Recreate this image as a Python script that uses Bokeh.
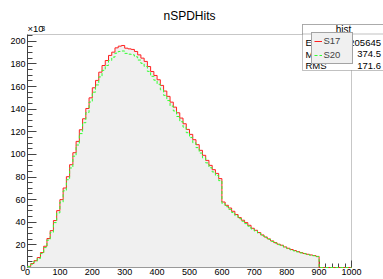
import numpy as np
from bokeh.plotting import figure
from bokeh.models import FixedTicker, Label, BoxAnnotation, Legend, LegendItem
from bokeh.embed import file_html
from bokeh.resources import INLINE

# ---------------- data (counts in units of 10^3, 10-wide bins from 0 to 1000) ----------------
bin_edges = list(range(0, 1001, 10))

s17 = [1.0, 3.5, 6.0, 8.8, 13.2, 18.8, 25.6, 32.6, 41.5, 50.3,
       60.0, 70.3, 80.3, 90.9, 101.5, 111.5, 121.8, 131.5, 140.6, 150.0,
       158.9, 165.4, 172.7, 178.6, 183.0, 187.5, 190.4, 194.2, 195.7, 196.3,
       193.9, 193.3, 192.8, 191.0, 188.0, 185.1, 182.2, 177.7, 173.3, 169.8,
       166.0, 161.0, 156.0, 151.3, 146.2, 141.8, 136.8, 132.1, 127.1, 122.1,
       117.7, 113.0, 108.6, 103.6, 99.2, 94.7, 90.3, 86.5, 83.2, 78.6,
       57.9, 55.0, 52.6, 49.7, 46.8, 44.1, 41.8, 39.7, 37.3, 34.7,
       32.9, 30.9, 28.8, 27.0, 25.3, 23.5, 22.0, 20.6, 19.7, 18.2,
       17.0, 15.9, 15.0, 14.1, 13.2, 12.4, 11.7, 11.1, 10.6, 9.8,
       0, 0, 0, 0, 0, 0, 0, 0, 0, 0]

s20 = [0.8, 3.0, 5.4, 8.0, 12.3, 17.6, 24.2, 31.0, 39.7, 48.3,
       57.8, 67.8, 77.6, 88.0, 98.4, 108.3, 118.4, 128.0, 137.0, 146.3,
       155.0, 161.4, 168.5, 174.3, 178.6, 183.0, 186.0, 189.5, 191.0, 191.4,
       189.3, 188.6, 188.0, 186.3, 183.4, 180.5, 177.7, 173.4, 169.0, 165.6,
       162.0, 157.1, 152.2, 147.6, 142.7, 138.4, 133.5, 128.9, 124.1, 119.2,
       114.9, 110.3, 106.0, 101.2, 96.9, 92.5, 88.2, 84.5, 81.3, 76.8,
       56.6, 53.8, 51.4, 48.6, 45.8, 43.2, 40.9, 38.8, 36.5, 34.0,
       32.2, 30.3, 28.2, 26.5, 24.8, 23.0, 21.6, 20.2, 19.3, 17.9,
       16.7, 15.6, 14.7, 13.8, 12.9, 12.2, 11.5, 10.9, 10.4, 9.6,
       0, 0, 0, 0, 0, 0, 0, 0, 0, 0]

series_names = ["S17", "S20"]
x_ticks = [0, 100, 200, 300, 400, 500, 600, 700, 800, 900, 1000]
x_minor = [v for v in range(0, 1001, 20) if v % 100]
y_ticks = [0, 20, 40, 60, 80, 100, 120, 140, 160, 180, 200]
y_minor = [v for v in range(0, 206, 5) if v % 20]
x_axis_range = (0, 1000)
y_axis_range = (0, 206)
title_text = "nSPDHits"
stats_title = "hist"
stats_names = ["Entries", "Mean", "RMS"]
stats_values = ["205645", "374.5", "171.6"]

FONT = "Liberation Sans"
AX = "#444444"

# canvas geometry (pixels): ROOT frame left/top/right/bottom
W, H = 383, 279
FL, FT, FR, FB = 27, 34, 351, 267
px_x = (FR - FL) / (x_axis_range[1] - x_axis_range[0])
px_y = (FB - FT) / (y_axis_range[1] - y_axis_range[0])
x_end = x_axis_range[0] + (W - FL) / px_x
y_end = y_axis_range[0] + FB / px_y

p = figure(width=W, height=H, x_range=(x_axis_range[0], x_end),
           y_range=(y_axis_range[0], y_end),
           output_backend="svg", toolbar_location=None,
           min_border_left=FL, min_border_top=0,
           min_border_right=0, min_border_bottom=H - FB)
p.background_fill_color = "white"
p.border_fill_color = "white"
p.outline_line_color = None
p.xgrid.grid_line_color = None
p.ygrid.grid_line_color = None

for ax in (p.xaxis[0], p.yaxis[0]):
    ax.axis_line_color = AX
    ax.major_tick_line_color = AX
    ax.minor_tick_line_color = AX
    ax.major_tick_out = 0
    ax.minor_tick_out = 0
    ax.major_label_text_font = FONT
    ax.major_label_text_font_size = "9px"
    ax.major_label_text_color = "black"

p.xaxis.ticker = FixedTicker(ticks=x_ticks, minor_ticks=x_minor)
p.yaxis.ticker = FixedTicker(ticks=y_ticks, minor_ticks=y_minor)
p.xaxis.bounds = x_axis_range
p.yaxis.bounds = y_axis_range
p.xaxis.major_tick_in = 7
p.xaxis.minor_tick_in = 4
p.yaxis.major_tick_in = 9
p.yaxis.minor_tick_in = 5
p.xaxis.major_label_standoff = 1
p.yaxis.major_label_standoff = 2

# ROOT frame
p.add_layout(BoxAnnotation(left=x_axis_range[0], right=x_axis_range[1],
                           bottom=y_axis_range[0], top=y_axis_range[1],
                           fill_alpha=0, line_color=AX, line_width=1))

edges = np.array(bin_edges, dtype=float)
v17 = np.array(s17, dtype=float)
v20 = np.array(s20, dtype=float)
ys17 = np.append(v17, v17[-1])
ys20 = np.append(v20, v20[-1])

fill = p.varea_step(x=edges, y1=np.zeros_like(ys17), y2=ys17, step_mode="after",
                    fill_color="#f0f0f0", level="overlay")
r17 = p.step(x=edges, y=ys17, mode="after", line_color="#ff2020", line_width=1,
             level="overlay")
r20 = p.step(x=edges, y=ys20, mode="after", line_color="#30ff30", line_width=1,
             line_dash="3 2", level="overlay")


def sx(x):
    return x - FL


def sy(y):
    return FB - y


# title
p.add_layout(Label(x=sx(189), y=sy(15.5), x_units="screen", y_units="screen",
                   text=title_text, text_align="center", text_baseline="middle",
                   text_font=FONT, text_font_size="12px", text_color="black"))
# x10^3 exponent
p.add_layout(Label(x=sx(27), y=sy(33.5), x_units="screen", y_units="screen",
                   text="\u00d710", text_align="left", text_baseline="bottom",
                   text_font=FONT, text_font_size="9.5px", text_color="black"))
p.add_layout(Label(x=sx(41), y=sy(30), x_units="screen", y_units="screen",
                   text="3", text_align="left", text_baseline="bottom",
                   text_font=FONT, text_font_size="6.5px", text_color="black"))

# stats box
p.add_layout(BoxAnnotation(left=sx(302), right=sx(385), top=sy(24), bottom=sy(70),
                           left_units="screen", right_units="screen",
                           top_units="screen", bottom_units="screen",
                           fill_color="white", fill_alpha=1,
                           line_color="#333333", line_width=1, level="overlay"))
p.add_layout(BoxAnnotation(left=sx(302), right=sx(385), top=sy(24), bottom=sy(33.5),
                           left_units="screen", right_units="screen",
                           top_units="screen", bottom_units="screen",
                           fill_color="white", fill_alpha=1,
                           line_color="#333333", line_width=1, level="overlay"))
p.add_layout(Label(x=sx(343), y=sy(29), x_units="screen", y_units="screen",
                   text=stats_title, text_align="center", text_baseline="middle",
                   text_font=FONT, text_font_size="10px", text_color="black",
                   level="overlay"))
rows_y = [42, 53.5, 65]
for name, val, yy in zip(stats_names, stats_values, rows_y):
    p.add_layout(Label(x=sx(305), y=sy(yy), x_units="screen", y_units="screen",
                       text=name, text_align="left", text_baseline="middle",
                       text_font=FONT, text_font_size="9.5px", text_color="black",
                       level="overlay"))
    p.add_layout(Label(x=sx(380.5), y=sy(yy), x_units="screen", y_units="screen",
                       text=val, text_align="right", text_baseline="middle",
                       text_font=FONT, text_font_size="9.5px", text_color="black",
                       level="overlay"))

legend = Legend(items=[LegendItem(label=series_names[0], renderers=[r17]),
                       LegendItem(label=series_names[1], renderers=[r20])],
                location=(sx(310.5), sy(63.5)), orientation="vertical",
                padding=2, spacing=2, margin=0, glyph_width=8, glyph_height=12,
                label_height=12, label_width=26, label_standoff=2,
                label_text_font=FONT, label_text_font_size="9.5px",
                label_text_baseline="middle",
                border_line_color="#555555", border_line_width=1,
                background_fill_color="#f0f0f0", background_fill_alpha=1,
                level="overlay")
p.add_layout(legend)

open("out.html", "w").write(file_html(p, INLINE))
